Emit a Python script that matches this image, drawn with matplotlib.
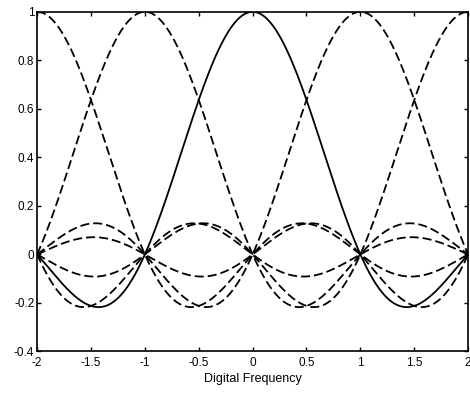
import numpy as np
import matplotlib
matplotlib.use("Agg")
import matplotlib.pyplot as plt

plt.rcParams['font.family'] = ['Liberation Sans', 'DejaVu Sans']

# sinc pulses centred on each integer; the one at 0 is drawn solid
centers = [-3, -2, -1, 0, 1, 2, 3]
styles = ['--', '--', '--', '-', '--', '--', '--']
x_ticks = [-2, -1.5, -1, -0.5, 0, 0.5, 1, 1.5, 2]
y_ticks = [-0.4, -0.2, 0, 0.2, 0.4, 0.6, 0.8, 1]
x_label = "Digital Frequency"

x = np.linspace(-2, 2, 801)

fig = plt.figure(figsize=(4.7, 3.94), dpi=100)
ax = fig.add_axes([0.079, 0.108, 0.917, 0.862])

for c, ls in zip(centers, styles):
    line, = ax.plot(x, np.sinc(x - c), color='black', linestyle=ls, linewidth=1.3)
    if ls == '--':
        line.set_dashes((5, 2.2))

ax.set_xlim(-2, 2)
ax.set_ylim(-0.4, 1)
ax.set_xticks(x_ticks)
ax.set_xticklabels([f"{t:g}" for t in x_ticks])
ax.set_yticks(y_ticks)
ax.set_yticklabels([f"{t:g}" for t in y_ticks])
ax.tick_params(direction='in', length=3, width=1, labelsize=8.5, top=True, right=True)
ax.tick_params(axis='x', pad=4)
ax.tick_params(axis='y', pad=2)
for s in ax.spines.values():
    s.set_linewidth(1.2)
ax.set_xlabel(x_label, fontsize=9, labelpad=3)

fig.savefig("out.png", dpi=100)
